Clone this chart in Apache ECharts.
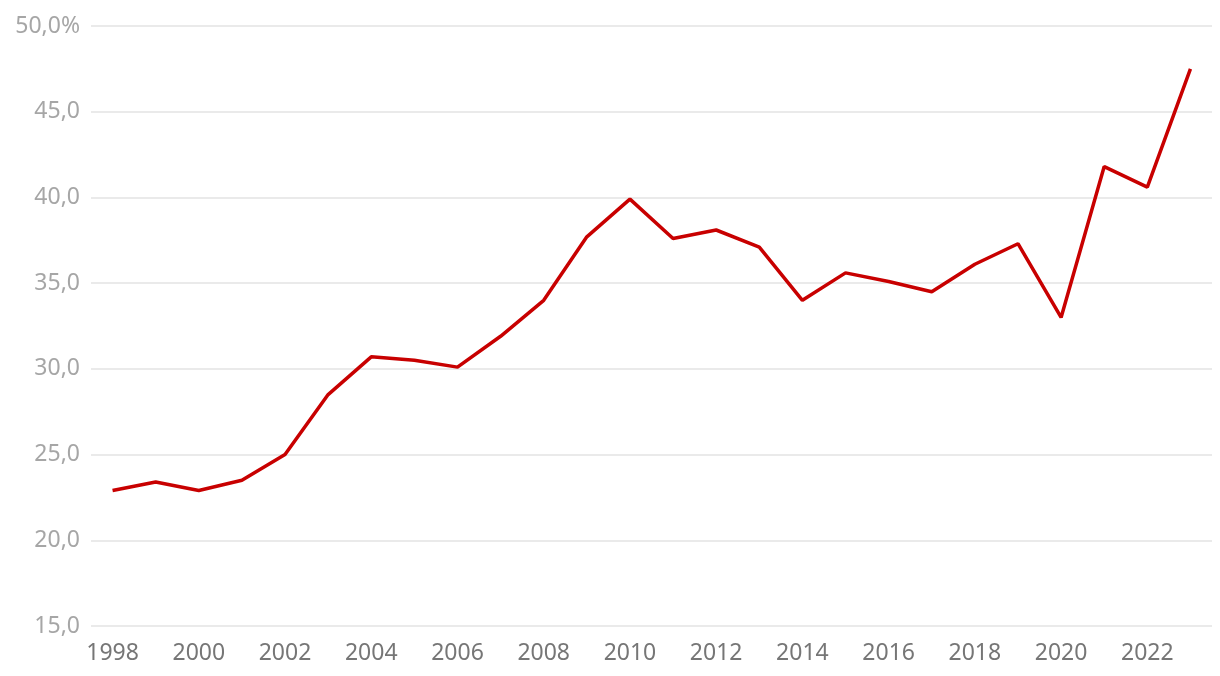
<!DOCTYPE html>
<html>
<head>
<meta charset="utf-8">
<script src="https://cdn.jsdelivr.net/npm/echarts@6/dist/echarts.min.js"></script>
<style>html,body{margin:0;padding:0;background:#fff;}#c{width:1220px;height:676px;}</style>
</head>
<body>
<div id="c"></div>
<script>
const years = ['1998','1999','2000','2001','2002','2003','2004','2005','2006','2007','2008','2009','2010','2011','2012','2013','2014','2015','2016','2017','2018','2019','2020','2021','2022','2023'];
const values = [22.9,23.4,22.9,23.5,25.0,28.5,30.7,30.5,30.1,31.9,34.0,37.7,39.9,37.6,38.1,37.1,34.0,35.6,35.1,34.5,36.1,37.3,33.0,41.8,40.6,47.5];
const yMin = 15, yMax = 50, yStep = 5;

const chart = echarts.init(document.getElementById('c'), null, {renderer:'canvas'});
chart.setOption({
  animation: false,
  grid: {left: 91, right: 8, top: 26, bottom: 50, containLabel: false},
  xAxis: {
    type: 'category', data: years, boundaryGap: true,
    axisLine: {show: false}, axisTick: {show: false},
    axisLabel: {interval: 1, color: '#767676', fontSize: 23, fontFamily: 'Noto Sans', margin: 16}
  },
  yAxis: {
    type: 'value', min: yMin, max: yMax, interval: yStep,
    axisLine: {show: false}, axisTick: {show: false},
    splitLine: {lineStyle: {color: '#e3e3e3', width: 1.5}},
    axisLabel: {color: '#a6a6a6', fontSize: 23, fontFamily: 'Noto Sans', margin: 11,
      formatter: v => v.toFixed(1).replace('.', ',') + (v === yMax ? '%' : '')}
  },
  series: [{
    type: 'line', data: values, symbol: 'none',
    lineStyle: {color: '#c80000', width: 3.5}
  }]
});
</script>
</body>
</html>
